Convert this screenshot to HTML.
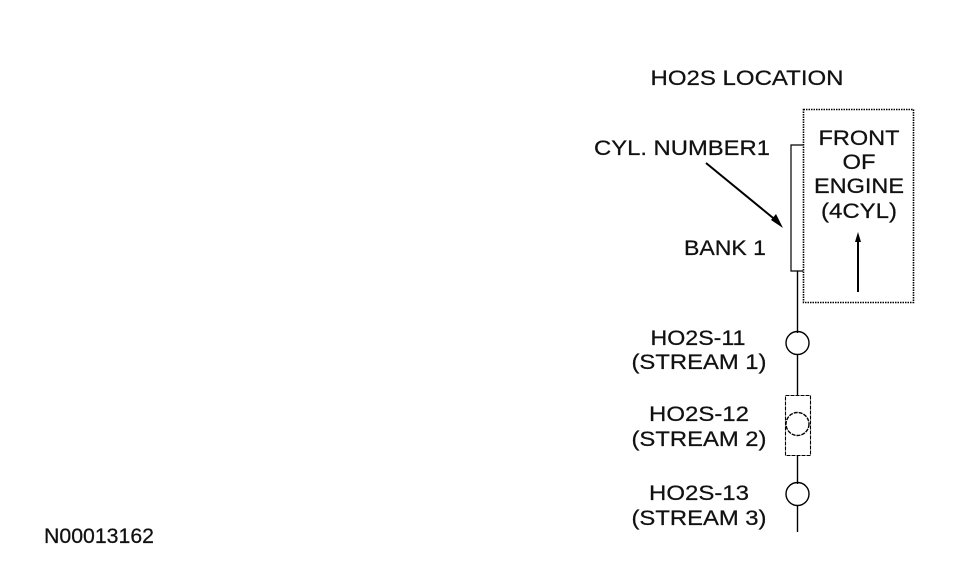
<!DOCTYPE html>
<html>
<head>
<meta charset="utf-8">
<style>
html,body{margin:0;padding:0;background:#fff;width:960px;height:582px;overflow:hidden}
svg{display:block}
text{font-family:"Liberation Sans",sans-serif;font-size:21px;fill:#111;stroke:#111;stroke-width:.25;text-anchor:middle}
</style>
</head>
<body>
<svg width="960" height="582" viewBox="0 0 960 582" xmlns="http://www.w3.org/2000/svg">
<rect width="960" height="582" fill="#fff"/>
<g fill="none" stroke="#000">
<rect x="803.5" y="109.5" width="110" height="193" stroke-width="1.6" stroke-dasharray="1.5 1"/>
<path d="M803 145H791V271H803" stroke-width="1.2"/>
<path d="M797.5 271V333M797.5 355V395M797.5 456V484M797.5 506V532" stroke-width="1.4"/>
<circle cx="797.5" cy="343" r="11.5" stroke-width="1.4"/>
<rect x="785.5" y="395.5" width="25" height="60" stroke-width="1.1" stroke-dasharray="4 1"/>
<circle cx="797.5" cy="424" r="11.5" stroke-width="1.4" stroke-dasharray="4 1"/>
<circle cx="797.5" cy="494" r="11.5" stroke-width="1.4"/>
<path d="M706 163L778 222" stroke-width="2"/>
<path d="M858 240V292" stroke-width="2"/>
</g>
<path d="M783 228L771 220L776 214Z" fill="#000"/>
<path d="M858 232L861 242H855Z" fill="#000"/>
<text x="747" y="85" textLength="193" lengthAdjust="spacingAndGlyphs">HO2S LOCATION</text>
<text x="682" y="155" textLength="176" lengthAdjust="spacingAndGlyphs">CYL. NUMBER1</text>
<text x="725" y="255" textLength="82" lengthAdjust="spacingAndGlyphs">BANK 1</text>
<text x="859" y="145" textLength="81" lengthAdjust="spacingAndGlyphs">FRONT</text>
<text x="859" y="169" textLength="33" lengthAdjust="spacingAndGlyphs">OF</text>
<text x="859" y="193" textLength="90" lengthAdjust="spacingAndGlyphs">ENGINE</text>
<text x="859" y="218" textLength="76" lengthAdjust="spacingAndGlyphs">(4CYL)</text>
<text x="698" y="345" textLength="95" lengthAdjust="spacingAndGlyphs">HO2S-11</text>
<text x="699" y="369" textLength="135" lengthAdjust="spacingAndGlyphs">(STREAM 1)</text>
<text x="699" y="421" textLength="100" lengthAdjust="spacingAndGlyphs">HO2S-12</text>
<text x="699" y="446" textLength="135" lengthAdjust="spacingAndGlyphs">(STREAM 2)</text>
<text x="699" y="500" textLength="100" lengthAdjust="spacingAndGlyphs">HO2S-13</text>
<text x="699" y="525" textLength="135" lengthAdjust="spacingAndGlyphs">(STREAM 3)</text>
<text x="99" y="543" textLength="110" lengthAdjust="spacingAndGlyphs">N00013162</text>
</svg>
</body>
</html>
